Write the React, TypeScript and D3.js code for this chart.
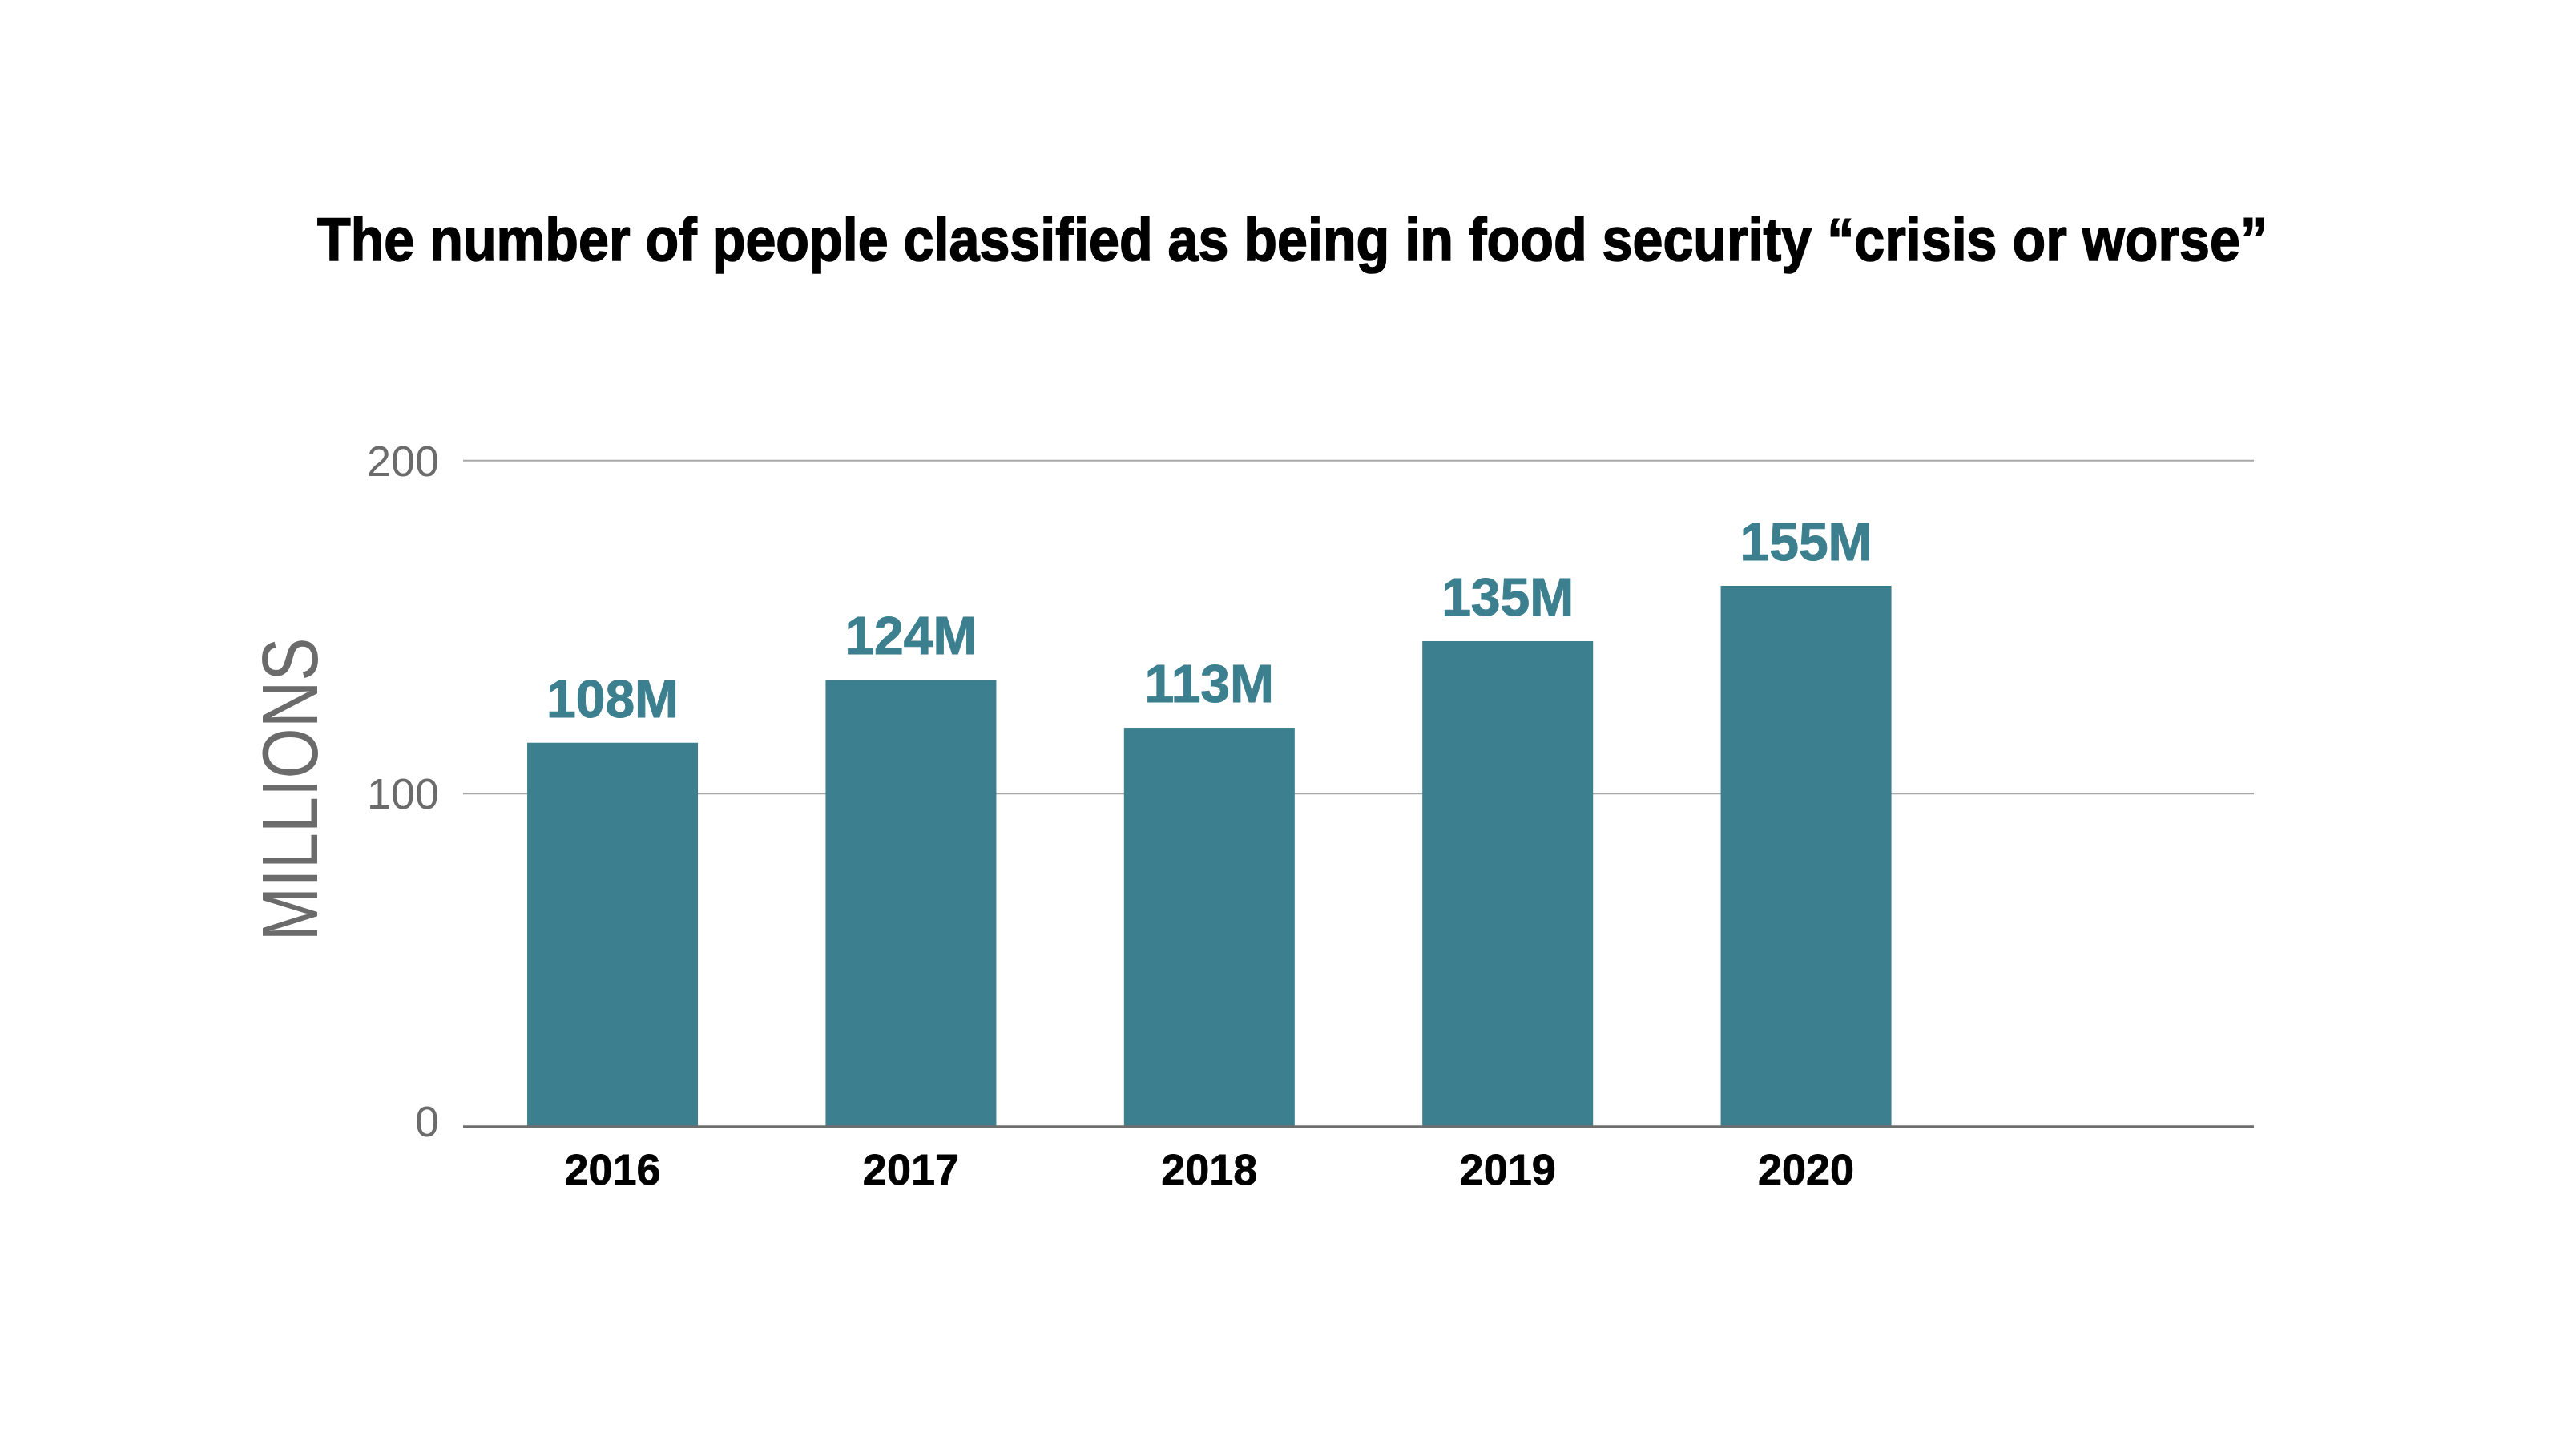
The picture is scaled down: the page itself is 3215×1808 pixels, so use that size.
import React from 'react';
import * as d3 from 'd3';

const years = ['2016', '2017', '2018', '2019', '2020'];
const barValues = [115.3, 134.2, 119.8, 145.8, 162.4];
const valueLabels = ['108M', '124M', '113M', '135M', '155M'];
const yTicks = [0, 100, 200];
const titleText = 'The number of people classified as being in food security \u201Ccrisis or worse\u201D';
const yAxisTitle = 'MILLIONS';

const TEAL = '#3c7f8f';
const FONT = '"Liberation Sans", Arial, Helvetica, sans-serif';

export default function App() {
  const W = 3215;
  const H = 1808;
  const plotLeft = 578;
  const plotRight = 2813;
  const pi = 0.428;
  const po = 0.215;
  const slots = 6; // axis leaves room for six bands; five are used
  const bandEnd =
    plotLeft + ((plotRight - plotLeft) * (years.length - pi + 2 * po)) / (slots - pi + 2 * po);

  const y = d3.scaleLinear().domain([0, 200]).range([1406, 574.7]);
  const x = d3
    .scaleBand<string>()
    .domain(years)
    .range([plotLeft, bandEnd])
    .paddingInner(pi)
    .paddingOuter(po);

  return (
    <svg
      width={W}
      height={H}
      viewBox={`0 0 ${W} ${H}`}
      style={{ position: 'absolute', left: 0, top: 0, display: 'block', background: '#fff' }}
    >
      <rect x={0} y={0} width={W} height={H} fill="#fff" />
      <text
        x={1613}
        y={325}
        textAnchor="middle"
        fontFamily={FONT}
        fontWeight="bold"
        fontSize={76}
        textLength={2434}
        lengthAdjust="spacingAndGlyphs"
        fill="#000"
        stroke="#000"
        strokeWidth={1.6}
      >
        {titleText}
      </text>

      {/* gridlines */}
      {yTicks.filter((t) => t !== 0).map((t) => (
        <line
          key={'g' + t}
          x1={plotLeft}
          x2={plotRight}
          y1={y(t)}
          y2={y(t)}
          stroke="#a8a8a8"
          strokeWidth={2}
        />
      ))}

      {/* bars */}
      {years.map((yr, i) => (
        <rect
          key={yr}
          x={x(yr)}
          y={y(barValues[i])}
          width={x.bandwidth()}
          height={y(0) - y(barValues[i])}
          fill={TEAL}
        />
      ))}

      {/* baseline */}
      <line x1={plotLeft} x2={plotRight} y1={y(0)} y2={y(0)} stroke="#6e6e6e" strokeWidth={3.5} />

      {/* tick labels */}
      {yTicks.map((t) => (
        <text
          key={'t' + t}
          x={548}
          y={y(t) - (t === 0 ? 7 : 0)}
          dy="0.35em"
          textAnchor="end"
          fontFamily={FONT}
          fontSize={54}
          fill="#6b6b6b"
        >
          {t}
        </text>
      ))}

      {/* value labels */}
      {years.map((yr, i) => (
        <text
          key={'v' + yr}
          x={(x(yr) as number) + x.bandwidth() / 2}
          y={y(barValues[i]) - 32}
          textAnchor="middle"
          fontFamily={FONT}
          fontWeight="bold"
          fontSize={66}
          fill={TEAL}
          stroke={TEAL}
          strokeWidth={1}
        >
          {valueLabels[i]}
        </text>
      ))}

      {/* year labels */}
      {years.map((yr) => (
        <text
          key={'x' + yr}
          x={(x(yr) as number) + x.bandwidth() / 2}
          y={1478}
          textAnchor="middle"
          fontFamily={FONT}
          fontWeight="bold"
          fontSize={54}
          fill="#000"
          stroke="#000"
          strokeWidth={0.8}
        >
          {yr}
        </text>
      ))}

      {/* y axis title */}
      <text
        transform="translate(396, 985) rotate(-90)"
        textAnchor="middle"
        fontFamily={FONT}
        fontSize={98}
        textLength={379}
        lengthAdjust="spacingAndGlyphs"
        fill="#6b6b6b"
      >
        {yAxisTitle}
      </text>
    </svg>
  );
}
